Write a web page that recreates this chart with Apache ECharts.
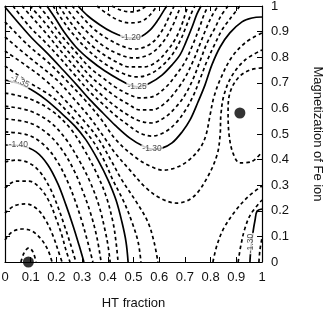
<!DOCTYPE html>
<html><head><meta charset="utf-8">
<script src="https://cdn.jsdelivr.net/npm/echarts@6/dist/echarts.min.js"></script>
<style>html,body{margin:0;padding:0;background:#fff}#c{width:326px;height:327px}</style>
</head><body><div id="c"></div>
<script>
// axis ticks
const xTicks = [0,0.1,0.2,0.3,0.4,0.5,0.6,0.7,0.8,0.9,1];
const xTickLabels = ['0','0.1','0.2','0.3','0.4','0.5','0.6','0.7','0.8','0.9','1'];
const yTicks = [0,0.1,0.2,0.3,0.4,0.5,0.6,0.7,0.8,0.9,1];
const yTickLabels = ['0','0.1','0.2','0.3','0.4','0.5','0.6','0.7','0.8','0.9','1'];

// contour lines: [HT fraction, magnetization] points
const m118 = [[0.416,1],[0.451,0.984],[0.490,0.977],[0.525,0.984],[0.549,1]];
const m119 = [[0.358,1],[0.393,0.973],[0.440,0.945],[0.486,0.934],[0.533,0.941],[0.568,0.969],[0.591,1]];
const m120 = [[0.284,1],[0.323,0.961],[0.370,0.926],[0.416,0.898],[0.463,0.879],[0.490,0.875],[0.525,0.879],[0.564,0.906],[0.595,0.945],[0.619,0.984],[0.630,1]];
const m121 = [[0.261,1],[0.300,0.957],[0.346,0.910],[0.401,0.871],[0.455,0.844],[0.502,0.832],[0.545,0.840],[0.584,0.867],[0.615,0.910],[0.638,0.957],[0.658,1]];
const m122 = [[0.233,1],[0.272,0.949],[0.323,0.895],[0.377,0.848],[0.440,0.813],[0.498,0.797],[0.549,0.805],[0.591,0.832],[0.626,0.875],[0.654,0.926],[0.673,0.973],[0.685,1]];
const m123 = [[0.210,1],[0.245,0.949],[0.292,0.891],[0.354,0.832],[0.420,0.789],[0.486,0.762],[0.541,0.762],[0.588,0.781],[0.630,0.824],[0.665,0.875],[0.689,0.930],[0.704,0.977],[0.712,1]];
const m124 = [[0.187,1],[0.218,0.953],[0.261,0.895],[0.319,0.832],[0.385,0.777],[0.455,0.738],[0.514,0.723],[0.564,0.734],[0.611,0.766],[0.650,0.809],[0.681,0.863],[0.704,0.918],[0.724,0.969],[0.739,1]];
const m125 = [[0.163,1],[0.195,0.953],[0.230,0.898],[0.276,0.840],[0.331,0.789],[0.389,0.746],[0.447,0.711],[0.486,0.691],[0.518,0.684],[0.564,0.699],[0.611,0.730],[0.650,0.770],[0.681,0.809],[0.704,0.859],[0.728,0.918],[0.747,0.969],[0.763,1]];
const m126 = [[0.132,1],[0.167,0.957],[0.214,0.891],[0.272,0.824],[0.331,0.758],[0.381,0.719],[0.428,0.684],[0.479,0.656],[0.525,0.641],[0.572,0.645],[0.623,0.680],[0.665,0.730],[0.700,0.781],[0.732,0.852],[0.759,0.922],[0.774,0.965],[0.790,1]];
const m127 = [[0.097,1],[0.156,0.934],[0.214,0.859],[0.272,0.793],[0.331,0.727],[0.381,0.684],[0.428,0.648],[0.479,0.617],[0.525,0.594],[0.572,0.594],[0.623,0.621],[0.665,0.668],[0.700,0.719],[0.732,0.785],[0.759,0.852],[0.782,0.910],[0.805,0.961],[0.829,1]];
const m128 = [[0.066,1],[0.097,0.965],[0.156,0.898],[0.214,0.828],[0.272,0.762],[0.331,0.695],[0.381,0.648],[0.428,0.609],[0.479,0.574],[0.525,0.551],[0.572,0.543],[0.623,0.566],[0.665,0.605],[0.700,0.652],[0.732,0.715],[0.759,0.785],[0.786,0.855],[0.817,0.914],[0.840,0.961],[0.868,1]];
const m129 = [[0.031,1],[0.097,0.918],[0.156,0.859],[0.214,0.797],[0.272,0.730],[0.331,0.664],[0.381,0.617],[0.428,0.574],[0.479,0.535],[0.525,0.504],[0.572,0.492],[0.623,0.508],[0.665,0.543],[0.700,0.590],[0.732,0.648],[0.759,0.715],[0.786,0.785],[0.817,0.852],[0.844,0.906],[0.875,0.949],[0.914,1]];
const m129corner = [[0.988,0],[0.992,0.047],[1,0.094]];
const m130 = [[0,0.996],[0.097,0.883],[0.167,0.813],[0.226,0.750],[0.280,0.691],[0.331,0.633],[0.381,0.582],[0.428,0.535],[0.486,0.484],[0.537,0.453],[0.572,0.441],[0.611,0.445],[0.650,0.465],[0.689,0.508],[0.720,0.555],[0.751,0.625],[0.778,0.691],[0.805,0.770],[0.837,0.840],[0.875,0.895],[0.922,0.938],[0.961,0.953],[1,0.957]];
const m130corner = [[0.953,0],[0.957,0.055],[0.965,0.117],[0.973,0.164],[0.981,0.199],[1,0.207]];
const m131 = [[0,0.938],[0.097,0.840],[0.167,0.781],[0.237,0.711],[0.311,0.633],[0.370,0.563],[0.432,0.477],[0.506,0.410],[0.564,0.375],[0.615,0.359],[0.661,0.367],[0.712,0.395],[0.759,0.445],[0.782,0.496],[0.798,0.574],[0.813,0.645],[0.840,0.719],[0.883,0.801],[0.938,0.859],[1,0.895]];
const m131corner = [[0.907,0],[0.918,0.066],[0.934,0.133],[0.957,0.188],[1,0.242]];
const m132 = [[0,0.879],[0.097,0.797],[0.202,0.711],[0.272,0.633],[0.331,0.563],[0.393,0.477],[0.428,0.426],[0.486,0.359],[0.545,0.293],[0.603,0.250],[0.669,0.230],[0.732,0.254],[0.786,0.328],[0.825,0.418],[0.837,0.496],[0.840,0.574],[0.852,0.652],[0.883,0.727],[0.934,0.789],[1,0.828]];
const m132corner = [[0.809,0],[0.825,0.066],[0.852,0.133],[0.899,0.203],[0.949,0.258],[1,0.297]];
const m133 = [[0,0.824],[0.078,0.770],[0.156,0.711],[0.233,0.633],[0.311,0.547],[0.366,0.477],[0.412,0.398],[0.455,0.320],[0.514,0.230],[0.556,0.156],[0.580,0.078],[0.595,0]];
const m133loop = [[1,0.758],[0.953,0.750],[0.907,0.719],[0.875,0.660],[0.868,0.586],[0.872,0.496],[0.887,0.426],[0.914,0.387],[0.957,0.391],[1,0.430]];
const m134 = [[0,0.766],[0.078,0.711],[0.156,0.664],[0.198,0.633],[0.272,0.555],[0.339,0.477],[0.385,0.398],[0.420,0.320],[0.463,0.234],[0.494,0.156],[0.518,0.078],[0.529,0]];
const m135 = [[0,0.711],[0.058,0.695],[0.117,0.664],[0.160,0.633],[0.214,0.586],[0.272,0.531],[0.315,0.477],[0.362,0.398],[0.401,0.320],[0.432,0.242],[0.455,0.156],[0.471,0.078],[0.479,0]];
const m136 = [[0,0.660],[0.097,0.637],[0.183,0.590],[0.253,0.523],[0.307,0.441],[0.354,0.352],[0.393,0.258],[0.420,0.156],[0.432,0.078],[0.440,0]];
const m137 = [[0,0.609],[0.097,0.590],[0.175,0.547],[0.237,0.480],[0.288,0.398],[0.331,0.313],[0.366,0.219],[0.389,0.125],[0.401,0.063],[0.409,0]];
const m138 = [[0,0.559],[0.097,0.543],[0.167,0.500],[0.222,0.438],[0.268,0.359],[0.304,0.273],[0.335,0.184],[0.358,0.094],[0.374,0]];
const m139 = [[0,0.508],[0.089,0.496],[0.152,0.457],[0.202,0.395],[0.241,0.320],[0.272,0.242],[0.300,0.156],[0.323,0.074],[0.342,0]];
const m140 = [[0,0.457],[0.066,0.453],[0.121,0.430],[0.167,0.379],[0.206,0.305],[0.237,0.223],[0.265,0.141],[0.288,0.066],[0.307,0]];
const m141 = [[0,0.391],[0.043,0.398],[0.093,0.387],[0.136,0.352],[0.175,0.289],[0.206,0.215],[0.233,0.137],[0.257,0.063],[0.276,0]];
const m142 = [[0,0.289],[0.043,0.316],[0.093,0.316],[0.136,0.289],[0.171,0.238],[0.198,0.172],[0.222,0.102],[0.237,0.047],[0.253,0]];
const m143 = [[0,0.191],[0.035,0.219],[0.082,0.227],[0.125,0.207],[0.160,0.160],[0.187,0.102],[0.206,0.047],[0.222,0]];
const m144 = [[0,0.086],[0.027,0.117],[0.066,0.129],[0.105,0.121],[0.140,0.090],[0.167,0.047],[0.183,0]];
const mInner = [[0.062,0],[0.074,0.035],[0.093,0.055],[0.109,0.039],[0.121,0]];

const contourPaths = [m118,m119,m120,m121,m122,m123,m124,m125,m126,m127,m128,m129,m129corner,m130,m130corner,m131,m131corner,m132,m132corner,m133,m133loop,m134,m135,m136,m137,m138,m139,m140,m141,m142,m143,m144,mInner];
// 1 = solid (labelled level), 0 = dashed
const contourSolid = [0,0,1,0,0,0,0,1,0,0,0,0,0,1,1,0,0,0,0,0,0,0,1,0,0,0,0,1,0,0,0,0,0];

// contour labels: [x, y, text, rotation]
const contourLabels = [
  [0.490,0.875,'-1.20',0],
  [0.514,0.686,'-1.25',0],
  [0.572,0.441,'-1.30',0],
  [0.058,0.706,'-1.35',-25],
  [0.052,0.457,'-1.40',0],
  [0.957,0.072,'-1.30',90]
];
// minima markers
const minima = [[0.091,0.0],[0.914,0.582]];

const font = 'Liberation Sans, Arial, Helvetica, sans-serif';
const series = [];
contourPaths.forEach((p,i)=>{
  const solid = contourSolid[i] === 1;
  series.push({
    type:'line', data:p, smooth:0.35, symbol:'none', silent:true, z:2,
    xAxisIndex:0, yAxisIndex:0,
    lineStyle:{color:'#000', width:1.7, type: solid ? 'solid' : [3.5,3]}
  });
});
series.push({
  type:'scatter', xAxisIndex:0, yAxisIndex:0, z:5, symbolSize:1, silent:true,
  itemStyle:{color:'rgba(0,0,0,0)'},
  data: contourLabels.map(l=>({value:[l[0],l[1]], label:{rotate:l[3]}, name:l[2]})),
  label:{show:true, position:'inside', formatter:p=>p.name, fontFamily:font, fontSize:8.5, color:'#222',
    backgroundColor:'#fff', padding:[0,1]}
});
series.push({
  type:'scatter', xAxisIndex:0, yAxisIndex:0, z:6, symbolSize:11, clip:false, silent:true,
  itemStyle:{color:'#000'}, data:minima
});

const tickCommon = {show:true, inside:true, length:5, lineStyle:{color:'#000', width:1}};
const option = {
  animation:false,
  backgroundColor:'#fff',
  grid:{left:5, right:64, top:6, bottom:65, containLabel:false, outerBoundsMode:'none'},
  xAxis:[
    {type:'value', min:0, max:1, interval:0.1, position:'bottom',
     axisLine:{show:true, onZero:false, lineStyle:{color:'#000', width:1.2}},
     axisTick:tickCommon, splitLine:{show:false},
     axisLabel:{margin:9, fontFamily:font, fontSize:13, color:'#111',
       formatter:v=>{const i=xTicks.findIndex(t=>Math.abs(t-v)<1e-6); return i>=0?xTickLabels[i]:'';}},
     name:'HT fraction', nameLocation:'middle', nameGap:35,
     nameTextStyle:{fontFamily:font, fontSize:13, color:'#111'}},
    {type:'value', min:0, max:1, interval:0.1, position:'top',
     axisLine:{show:true, onZero:false, lineStyle:{color:'#000', width:1.2}},
     axisTick:tickCommon, axisLabel:{show:false}, splitLine:{show:false}}
  ],
  yAxis:[
    {type:'value', min:0, max:1, interval:0.1, position:'right',
     axisLine:{show:true, onZero:false, lineStyle:{color:'#000', width:1.2}},
     axisTick:tickCommon, splitLine:{show:false},
     axisLabel:{margin:9, fontFamily:font, fontSize:13, color:'#111',
       formatter:v=>{const i=yTicks.findIndex(t=>Math.abs(t-v)<1e-6); return i>=0?yTickLabels[i]:'';}},
     name:'Magnetization of Fe ion', nameLocation:'middle', nameGap:49, nameRotate:-90,
     nameTextStyle:{fontFamily:font, fontSize:13, color:'#111'}},
    {type:'value', min:0, max:1, interval:0.1, position:'left',
     axisLine:{show:true, onZero:false, lineStyle:{color:'#000', width:1.2}},
     axisTick:tickCommon, axisLabel:{show:false}, splitLine:{show:false}}
  ],
  series
};
const chart = echarts.init(document.getElementById('c'), null, {renderer:'canvas'});
chart.setOption(option);
</script>
</body></html>
